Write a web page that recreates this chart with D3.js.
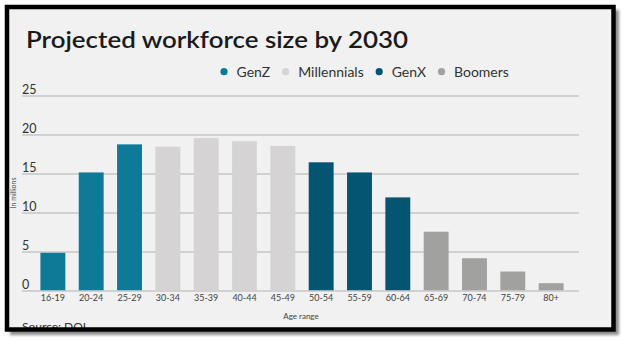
<!DOCTYPE html>
<html>
<head>
<meta charset="utf-8">
<script src="https://cdn.jsdelivr.net/npm/d3@7"></script>
<style>
  html, body { margin: 0; padding: 0; background: #ffffff; }
  svg { display: block; }
  text { font-family: Lato, "Open Sans", sans-serif; }
</style>
</head>
<body>
<svg id="chart" width="626" height="342"></svg>
<script>
// ---- data ----
const categories = ["16-19","20-24","25-29","30-34","35-39","40-44","45-49","50-54","55-59","60-64","65-69","70-74","75-79","80+"];
const values = [4.9, 15.2, 18.8, 18.5, 19.6, 19.2, 18.6, 16.5, 15.2, 12.0, 7.6, 4.2, 2.5, 1.0];
const generationOf = ["GenZ","GenZ","GenZ","Millennials","Millennials","Millennials","Millennials","GenX","GenX","GenX","Boomers","Boomers","Boomers","Boomers"];
const generations = ["GenZ","Millennials","GenX","Boomers"];
const genColors = ["#0e7a98","#d5d3d4","#045572","#a1a1a0"];
const yTicks = [0, 5, 10, 15, 20, 25];
const title = "Projected workforce size by 2030";
const yTitle = "In millions";
const xTitle = "Age range";
const source = "Source: DOL";

const svg = d3.select("#chart");
const defs = svg.append("defs");
const f = defs.append("filter").attr("id","shadow").attr("x","-5%").attr("y","-5%").attr("width","110%").attr("height","110%");
f.append("feGaussianBlur").attr("stdDeviation", 1.6);

// shadow + panel
svg.append("rect").attr("x", 10).attr("y", 10).attr("width", 609).attr("height", 325)
  .attr("fill", "#8a8a8a").attr("filter", "url(#shadow)");
svg.append("rect").attr("x", 7).attr("y", 7).attr("width", 607).attr("height", 323)
  .attr("fill", "#f0f1f0");

const color = d3.scaleOrdinal().domain(generations).range(genColors);
const y = d3.scaleLinear().domain([0, 25]).range([291, 96]);
const x = d3.scaleBand().domain(categories).range([27, 577]).padding(0.35);
const gridX0 = 22, gridX1 = 579;

// title
svg.append("text").attr("x", 26).attr("y", 47.5)
  .attr("font-size", 22.5).attr("font-weight", 600).attr("fill", "#1a1a1a")
  .attr("textLength", 382).attr("lengthAdjust", "spacingAndGlyphs")
  .text(title);

// legend
const legend = svg.append("g");
let lx = 224;
generations.forEach((g, i) => {
  legend.append("circle").attr("cx", lx).attr("cy", 71.7).attr("r", 3.6).attr("fill", color(g));
  const t = legend.append("text").attr("x", lx + 12.5).attr("y", 76.8)
    .attr("font-size", 14).attr("fill", "#333").text(g);
  const w = t.node().getComputedTextLength();
  lx = lx + 12.5 + w + 15.5;
});

// gridlines + y labels
const grid = svg.append("g");
yTicks.forEach(v => {
  grid.append("line").attr("x1", gridX0).attr("x2", gridX1)
    .attr("y1", y(v)).attr("y2", y(v))
    .attr("stroke", "#c6c6c6").attr("stroke-width", 1.5);
  grid.append("text").attr("x", 22).attr("y", y(v) - 2.5)
    .attr("font-size", 12.5).attr("fill", "#333").text(v);
});

// bars
svg.append("g").selectAll("rect").data(categories).join("rect")
  .attr("x", d => x(d))
  .attr("width", x.bandwidth())
  .attr("y", (d, i) => y(values[i]))
  .attr("height", (d, i) => y(0) - y(values[i]) - 0.75)
  .attr("fill", (d, i) => color(generationOf[i]));

// x axis labels
const xAxis = d3.axisBottom(x).tickSize(0).tickPadding(0);
const xg = svg.append("g").attr("transform", "translate(0,295)").call(xAxis);
xg.select(".domain").remove();
xg.selectAll("text").attr("font-size", 9).attr("fill", "#444")
  .attr("font-family", "Lato, 'Open Sans', sans-serif").attr("dy", "0.71em");

svg.append("text").attr("x", 301).attr("y", 318.5).attr("text-anchor", "middle")
  .attr("font-size", 8).attr("fill", "#444").text(xTitle);

svg.append("text").attr("transform", "translate(16,193) rotate(-90)")
  .attr("text-anchor", "middle").attr("font-size", 7).attr("fill", "#555").text(yTitle);

svg.append("text").attr("x", 22).attr("y", 331).attr("font-size", 12)
  .attr("fill", "#333").text(source);

// frame
svg.append("rect").attr("x", 7).attr("y", 7).attr("width", 606.5).attr("height", 322.5)
  .attr("fill", "none").attr("stroke", "#000").attr("stroke-width", 4.5);
</script>
</body>
</html>
